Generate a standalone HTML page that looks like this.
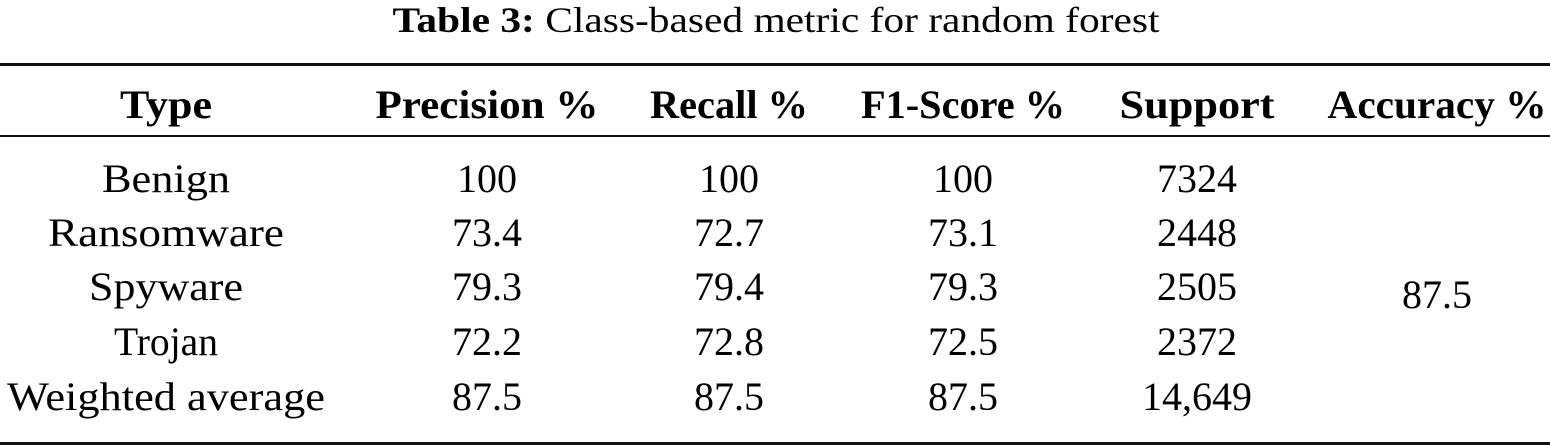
<!DOCTYPE html>
<html><head><meta charset="utf-8"><style>
html,body{margin:0;padding:0;background:#fff;}
svg{display:block;font-family:"Liberation Serif",serif;}
</style></head><body>
<svg width="1550" height="447" viewBox="0 0 1550 447">
<text x="776" y="32" text-anchor="middle" font-size="36" textLength="767" lengthAdjust="spacingAndGlyphs"><tspan font-weight="bold">Table 3:</tspan> Class-based metric for random forest</text>
<rect x="0" y="63" width="1550" height="3" fill="#111"/>
<rect x="0" y="135" width="1550" height="2" fill="#111"/>
<rect x="0" y="442" width="1550" height="3" fill="#111"/>
<g id="hdr" font-weight="bold" font-size="40" text-anchor="middle"></g>
<g id="body" font-size="40" text-anchor="middle"></g>
</svg>
<script>
const headers=["Type","Precision %","Recall %","F1-Score %","Support","Accuracy %"];
const headerW=[92,223,158,204,155,219];
const cx=[166,487,729,963,1197,1437];
const types=["Benign","Ransomware","Spyware","Trojan","Weighted average"];
const typeW=[128,236,154,104,318];
const precision=["100","73.4","79.3","72.2","87.5"];
const recall=["100","72.7","79.4","72.8","87.5"];
const f1=["100","73.1","79.3","72.5","87.5"];
const support=["7324","2448","2505","2372","14,649"];
const accuracy="87.5";
const rowY=[192,246,300,355,410];
const NS="http://www.w3.org/2000/svg";
function t(parent,x,y,s,w){const e=document.createElementNS(NS,"text");e.setAttribute("x",x);e.setAttribute("y",y);if(w){e.setAttribute("textLength",w);e.setAttribute("lengthAdjust","spacingAndGlyphs");}e.textContent=s;parent.appendChild(e);return e;}
const hdr=document.getElementById("hdr");
headers.forEach((h,i)=>{const e=t(hdr,cx[i],118,h,headerW[i]);

});
const body=document.getElementById("body");
types.forEach((ty,r)=>{
 const cols=[ty,precision[r],recall[r],f1[r],support[r]];
 cols.forEach((v,c)=>{const e=t(body,cx[c],rowY[r],v,c===0?typeW[r]:null);
 
 });
});
const a=t(body,cx[5],(rowY[2]+8),accuracy);


</script>
</body></html>
